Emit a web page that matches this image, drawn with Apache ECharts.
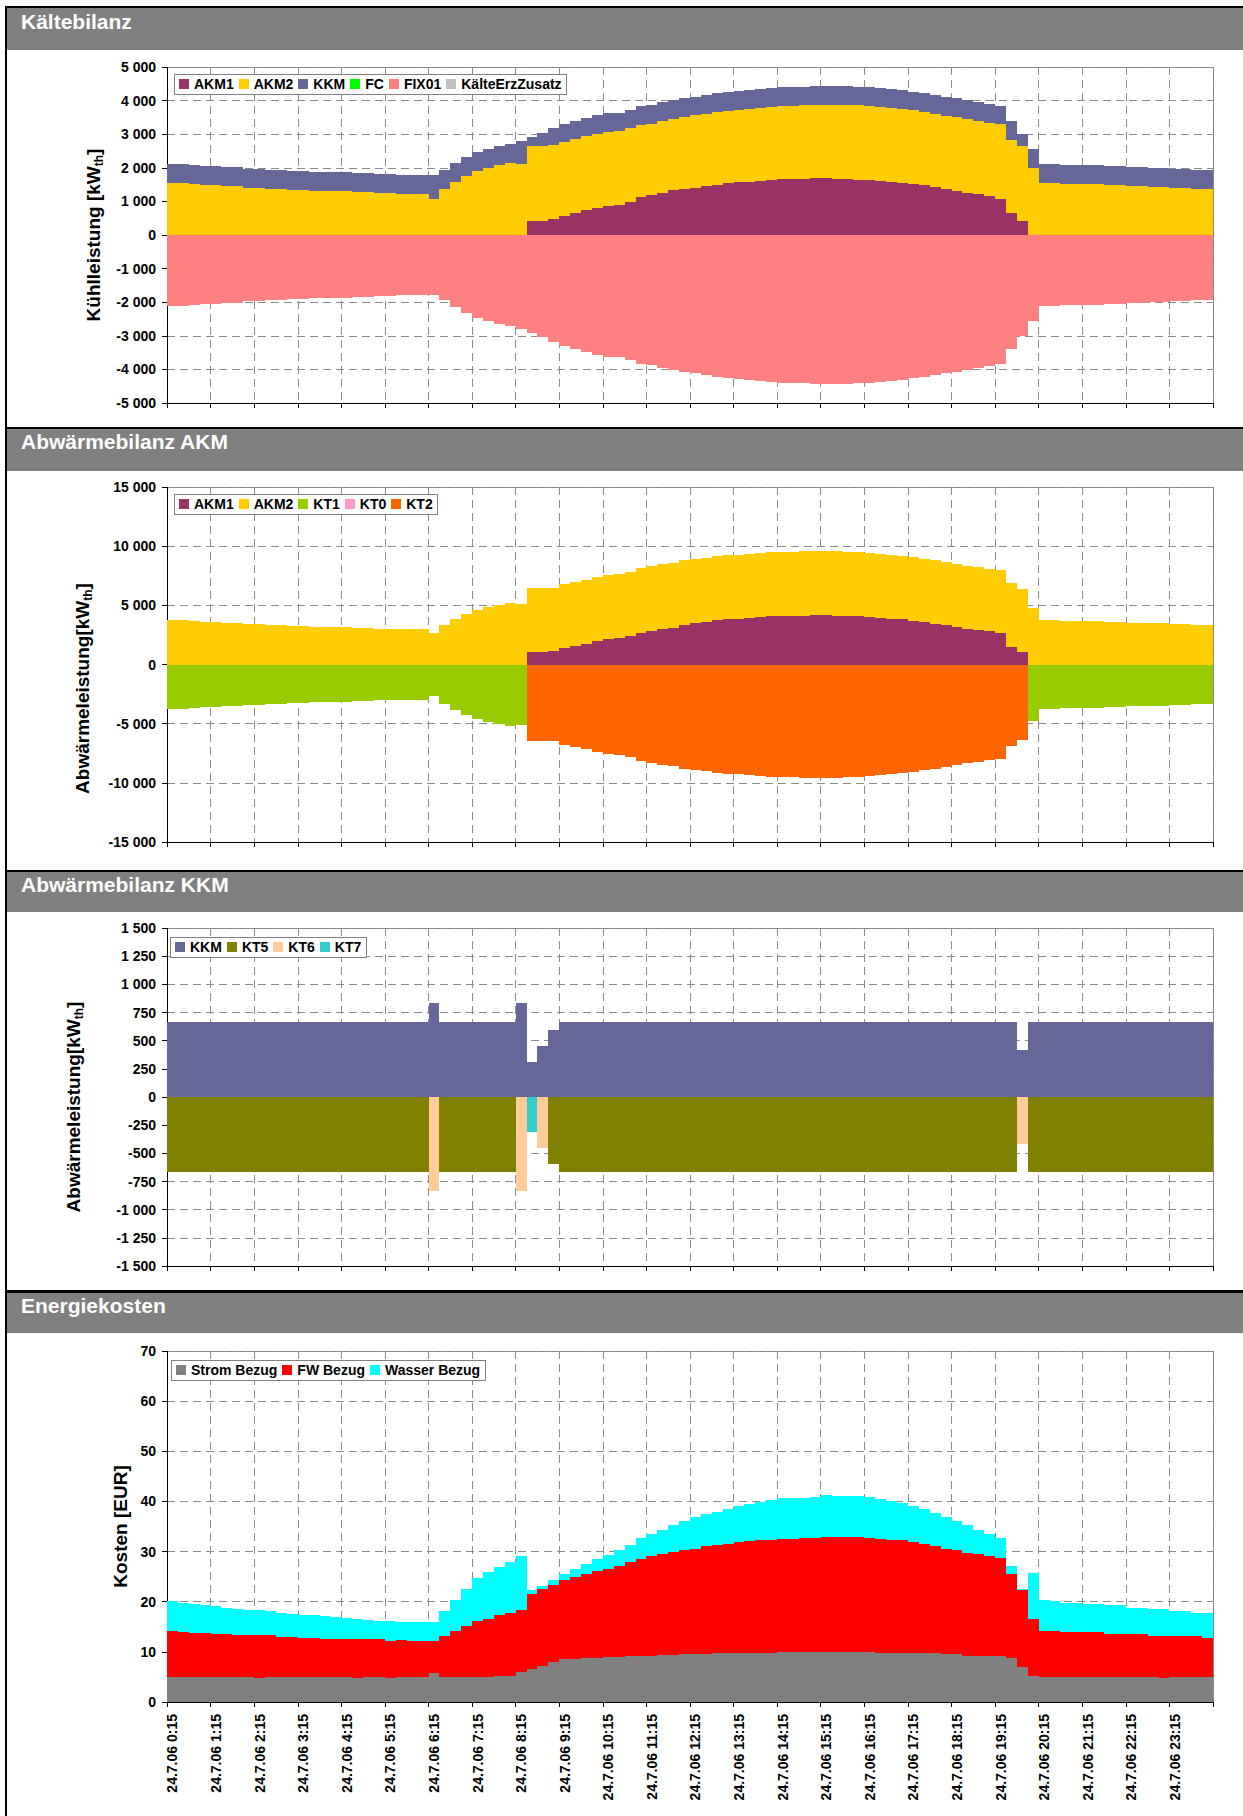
<!DOCTYPE html>
<html>
<head>
<meta charset="utf-8">
<title>Tagesbilanz 24.7.06</title>
<script src="https://cdn.jsdelivr.net/npm/echarts@6.0.0/dist/echarts.min.js"></script>
<style>
html,body{margin:0;padding:0;background:#fff;}
#chart{width:1243px;height:1816px;}
/* the stepped bar bands are drawn edge to edge; keep them free of hairline seams */
#chart svg path{shape-rendering:crispEdges;}
</style>
</head>
<body>
<div id="chart"></div>
<script>
// Quarter-hour time stamps of the day
const categories = [
  '24.7.06 0:15','24.7.06 0:30','24.7.06 0:45','24.7.06 1:00',
  '24.7.06 1:15','24.7.06 1:30','24.7.06 1:45','24.7.06 2:00',
  '24.7.06 2:15','24.7.06 2:30','24.7.06 2:45','24.7.06 3:00',
  '24.7.06 3:15','24.7.06 3:30','24.7.06 3:45','24.7.06 4:00',
  '24.7.06 4:15','24.7.06 4:30','24.7.06 4:45','24.7.06 5:00',
  '24.7.06 5:15','24.7.06 5:30','24.7.06 5:45','24.7.06 6:00',
  '24.7.06 6:15','24.7.06 6:30','24.7.06 6:45','24.7.06 7:00',
  '24.7.06 7:15','24.7.06 7:30','24.7.06 7:45','24.7.06 8:00',
  '24.7.06 8:15','24.7.06 8:30','24.7.06 8:45','24.7.06 9:00',
  '24.7.06 9:15','24.7.06 9:30','24.7.06 9:45','24.7.06 10:00',
  '24.7.06 10:15','24.7.06 10:30','24.7.06 10:45','24.7.06 11:00',
  '24.7.06 11:15','24.7.06 11:30','24.7.06 11:45','24.7.06 12:00',
  '24.7.06 12:15','24.7.06 12:30','24.7.06 12:45','24.7.06 13:00',
  '24.7.06 13:15','24.7.06 13:30','24.7.06 13:45','24.7.06 14:00',
  '24.7.06 14:15','24.7.06 14:30','24.7.06 14:45','24.7.06 15:00',
  '24.7.06 15:15','24.7.06 15:30','24.7.06 15:45','24.7.06 16:00',
  '24.7.06 16:15','24.7.06 16:30','24.7.06 16:45','24.7.06 17:00',
  '24.7.06 17:15','24.7.06 17:30','24.7.06 17:45','24.7.06 18:00',
  '24.7.06 18:15','24.7.06 18:30','24.7.06 18:45','24.7.06 19:00',
  '24.7.06 19:15','24.7.06 19:30','24.7.06 19:45','24.7.06 20:00',
  '24.7.06 20:15','24.7.06 20:30','24.7.06 20:45','24.7.06 21:00',
  '24.7.06 21:15','24.7.06 21:30','24.7.06 21:45','24.7.06 22:00',
  '24.7.06 22:15','24.7.06 22:30','24.7.06 22:45','24.7.06 23:00',
  '24.7.06 23:15','24.7.06 23:30','24.7.06 23:45','25.7.06 0:00'
];

// ---- Kältebilanz [kW_th] ----
const kbAKM1 = [
  0,0,0,0,0,0,0,0,0,0,0,0,
  0,0,0,0,0,0,0,0,0,0,0,0,
  0,0,0,0,0,0,0,0,0,417,417,466,
  556,655,734,810,850,883,972,1131,1200,1250,1329,1369,
  1409,1458,1498,1538,1567,1587,1617,1637,1657,1667,1667,1687,
  1687,1667,1657,1637,1637,1617,1587,1558,1528,1488,1438,1379,
  1310,1250,1210,1161,1062,655,417,0,0,0,0,0,
  0,0,0,0,0,0,0,0,0,0,0,0
];
const kbAKM2 = [
  1538,1538,1508,1478,1478,1448,1448,1409,1409,1379,1379,1349,
  1349,1319,1319,1300,1300,1270,1270,1250,1250,1230,1230,1230,
  1081,1379,1567,1746,1895,1984,2083,2143,2103,2230,2230,2200,
  2200,2190,2200,2205,2215,2200,2200,2135,2115,2145,2125,2145,
  2150,2150,2155,2150,2165,2175,2175,2175,2180,2180,2190,2190,
  2190,2200,2210,2220,2200,2195,2205,2190,2180,2175,2175,2175,
  2200,2200,2185,2170,2230,2180,2220,1984,1548,1548,1528,1528,
  1508,1508,1478,1478,1458,1458,1429,1429,1399,1399,1359,1359
];
const kbKKM = [
  565,565,565,565,565,565,565,565,565,565,565,565,
  565,565,565,565,565,565,565,565,565,565,565,565,
  715,565,565,565,565,565,565,565,700,265,385,505,
  560,560,560,560,560,560,560,560,560,560,560,560,
  560,560,560,560,560,560,560,560,560,560,560,560,
  560,560,560,560,560,560,560,560,560,560,560,560,
  560,560,560,560,560,560,355,565,565,565,565,565,
  565,565,565,565,565,565,565,565,565,565,565,565
];
const kbFC = [];        // free cooling: not in operation on this day
const kbFIX01 = [
  -2103,-2103,-2073,-2043,-2043,-2013,-2013,-1974,-1974,-1944,-1944,-1914,
  -1914,-1884,-1884,-1865,-1865,-1835,-1835,-1815,-1815,-1795,-1795,-1795,
  -1796,-1944,-2132,-2311,-2460,-2549,-2648,-2708,-2803,-2912,-3032,-3171,
  -3316,-3405,-3494,-3575,-3625,-3643,-3732,-3826,-3875,-3955,-4014,-4074,
  -4119,-4168,-4213,-4248,-4292,-4322,-4352,-4372,-4397,-4407,-4417,-4437,
  -4437,-4427,-4427,-4417,-4397,-4372,-4352,-4308,-4268,-4223,-4173,-4114,
  -4070,-4010,-3955,-3891,-3852,-3395,-2992,-2549,-2113,-2113,-2093,-2093,
  -2073,-2073,-2043,-2043,-2023,-2023,-1994,-1994,-1964,-1964,-1924,-1924
];
const kbZusatz = [];    // additional cold generation: none

// ---- Abwärmebilanz AKM [kW_th] ----
const abAKM1 = [
  0,0,0,0,0,0,0,0,0,0,0,0,
  0,0,0,0,0,0,0,0,0,0,0,0,
  0,0,0,0,0,0,0,0,0,1070,1070,1150,
  1400,1550,1770,2000,2190,2250,2420,2620,2840,2980,3120,3370,
  3510,3630,3740,3820,3880,3940,4020,4080,4110,4110,4130,4160,
  4160,4110,4110,4080,4050,3970,3880,3830,3710,3600,3460,3320,
  3210,3040,2900,2810,2670,1490,1040,0,0,0,0,0,
  0,0,0,0,0,0,0,0,0,0,0,0
];
const abAKM2 = [
  3740,3740,3670,3600,3600,3530,3530,3430,3430,3350,3350,3280,
  3280,3210,3210,3160,3160,3090,3090,3040,3040,2990,2990,2990,
  2650,3380,3830,4250,4640,4830,5010,5170,5090,5360,5360,5350,
  5370,5400,5400,5390,5400,5380,5400,5540,5460,5490,5490,5430,
  5410,5370,5400,5400,5400,5430,5400,5400,5400,5420,5430,5430,
  5430,5450,5420,5425,5400,5395,5400,5340,5370,5340,5340,5340,
  5255,5285,5340,5290,5345,5430,5370,4810,3760,3760,3710,3710,
  3660,3660,3590,3590,3540,3540,3470,3470,3400,3400,3300,3300
];
const abKT1 = [
  -3740,-3740,-3670,-3600,-3600,-3530,-3530,-3430,-3430,-3350,-3350,-3280,
  -3280,-3210,-3210,-3160,-3160,-3090,-3090,-3040,-3040,-2990,-2990,-2990,
  -2650,-3380,-3830,-4250,-4640,-4830,-5010,-5170,-5090,0,0,0,
  0,0,0,0,0,0,0,0,0,0,0,0,
  0,0,0,0,0,0,0,0,0,0,0,0,
  0,0,0,0,0,0,0,0,0,0,0,0,
  0,0,0,0,0,0,0,-4810,-3760,-3760,-3710,-3710,
  -3660,-3660,-3590,-3590,-3540,-3540,-3470,-3470,-3400,-3400,-3300,-3300
];
const abKT0 = [];       // cooling tower KT0: idle
const abKT2 = [
  0,0,0,0,0,0,0,0,0,0,0,0,
  0,0,0,0,0,0,0,0,0,0,0,0,
  0,0,0,0,0,0,0,0,0,-6430,-6430,-6500,
  -6770,-6950,-7170,-7390,-7590,-7630,-7820,-8160,-8300,-8470,-8610,-8800,
  -8920,-9000,-9140,-9220,-9280,-9370,-9420,-9480,-9510,-9530,-9560,-9590,
  -9590,-9560,-9530,-9505,-9450,-9365,-9280,-9170,-9080,-8940,-8800,-8660,
  -8465,-8325,-8240,-8100,-8015,-6920,-6410,0,0,0,0,0,
  0,0,0,0,0,0,0,0,0,0,0,0
];

// ---- Abwärmebilanz KKM [kW_th] ----
const kkKKM = [
  665,665,665,665,665,665,665,665,665,665,665,665,
  665,665,665,665,665,665,665,665,665,665,665,665,
  835,665,665,665,665,665,665,665,835,315,455,595,
  665,665,665,665,665,665,665,665,665,665,665,665,
  665,665,665,665,665,665,665,665,665,665,665,665,
  665,665,665,665,665,665,665,665,665,665,665,665,
  665,665,665,665,665,665,420,665,665,665,665,665,
  665,665,665,665,665,665,665,665,665,665,665,665
];
const kkKT5 = [
  -665,-665,-665,-665,-665,-665,-665,-665,-665,-665,-665,-665,
  -665,-665,-665,-665,-665,-665,-665,-665,-665,-665,-665,-665,
  0,-665,-665,-665,-665,-665,-665,-665,0,0,0,-595,
  -665,-665,-665,-665,-665,-665,-665,-665,-665,-665,-665,-665,
  -665,-665,-665,-665,-665,-665,-665,-665,-665,-665,-665,-665,
  -665,-665,-665,-665,-665,-665,-665,-665,-665,-665,-665,-665,
  -665,-665,-665,-665,-665,-665,0,-665,-665,-665,-665,-665,
  -665,-665,-665,-665,-665,-665,-665,-665,-665,-665,-665,-665
];
const kkKT6 = [
  0,0,0,0,0,0,0,0,0,0,0,0,
  0,0,0,0,0,0,0,0,0,0,0,0,
  -835,0,0,0,0,0,0,0,-835,0,-455,0,
  0,0,0,0,0,0,0,0,0,0,0,0,
  0,0,0,0,0,0,0,0,0,0,0,0,
  0,0,0,0,0,0,0,0,0,0,0,0,
  0,0,0,0,0,0,-420,0,0,0,0,0,
  0,0,0,0,0,0,0,0,0,0,0,0
];
const kkKT7 = [
  0,0,0,0,0,0,0,0,0,0,0,0,
  0,0,0,0,0,0,0,0,0,0,0,0,
  0,0,0,0,0,0,0,0,0,-315,0,0,
  0,0,0,0,0,0,0,0,0,0,0,0,
  0,0,0,0,0,0,0,0,0,0,0,0,
  0,0,0,0,0,0,0,0,0,0,0,0,
  0,0,0,0,0,0,0,0,0,0,0,0,
  0,0,0,0,0,0,0,0,0,0,0,0
];

// ---- Energiekosten [EUR] ----
const ekStrom = [
  5.0,5.0,5.0,5.0,5.0,5.0,5.0,5.0,4.8,5.0,5.0,5.0,
  5.0,5.0,5.0,5.0,5.0,4.8,5.0,5.0,4.8,5.0,5.0,5.0,
  5.8,5.0,5.0,5.0,5.0,5.0,5.2,5.2,6.0,6.5,7.2,8.0,
  8.5,8.5,8.8,8.8,9.0,9.0,9.1,9.1,9.1,9.3,9.3,9.5,
  9.5,9.5,9.8,9.8,9.8,9.8,9.8,9.8,10.0,10.0,10.0,10.0,
  10.0,10.0,10.0,10.0,10.0,9.8,9.8,9.8,9.8,9.8,9.8,9.5,
  9.5,9.1,9.1,9.1,9.1,8.8,7.0,5.1,4.9,4.9,4.9,4.9,
  4.9,4.9,4.9,4.9,4.9,4.9,4.9,4.8,4.9,4.9,4.9,4.9
];
const ekFW = [
  9.1,8.9,8.8,8.8,8.5,8.5,8.3,8.3,8.5,8.3,8.0,8.0,
  7.8,7.8,7.5,7.5,7.5,7.7,7.5,7.5,7.4,7.3,7.1,7.1,
  6.3,8.1,9.1,10.1,11.1,11.6,12.1,12.6,12.3,15.1,15.3,15.4,
  15.8,16.5,16.8,17.3,17.5,18.2,18.8,19.4,20.0,20.2,20.6,20.8,
  21.1,21.6,21.5,21.8,22.1,22.3,22.5,22.6,22.6,22.6,22.8,22.8,
  23.0,22.9,22.9,22.9,22.8,22.8,22.6,22.5,22.1,21.8,21.3,21.1,
  20.8,20.7,20.4,20.0,19.6,16.7,15.3,11.5,9.2,9.2,9.0,9.0,
  9.0,9.0,8.7,8.7,8.7,8.7,8.3,8.4,8.3,8.3,8.3,7.9
];
const ekWasser = [
  6.0,5.8,5.7,5.5,5.6,5.3,5.3,5.1,5.0,4.9,4.8,4.6,
  4.6,4.5,4.6,4.4,4.3,4.1,3.9,3.7,3.9,3.7,3.8,3.8,
  3.8,5.0,6.2,7.4,8.6,9.3,9.6,10.1,10.8,0.7,0.7,1.0,
  1.3,1.6,2.0,2.4,2.8,3.2,3.5,4.2,4.5,4.9,5.3,5.7,
  6.2,6.3,6.6,6.8,7.1,7.3,7.5,7.8,8.0,8.0,7.9,8.1,
  8.2,8.1,8.1,8.1,8.0,7.8,7.6,7.3,7.1,6.8,6.5,6.2,
  5.7,5.4,4.9,4.5,4.1,1.6,0.3,9.2,6.2,6.0,5.9,5.9,
  5.7,5.7,5.7,5.7,5.2,5.2,5.3,5.3,4.9,4.9,4.6,5.0
];

// ---------------------------------------------------------------
const FONT = "'Liberation Sans', Arial, Helvetica, sans-serif";
const PLOT_LEFT = 167, PLOT_WIDTH = 1046;
const GRID_LINE = { color: '#8c8c8c', width: 1, type: [8, 5] };

const panels = [
  { title: 'Kältebilanz', titleTop: 11, band: [8, 42], rule: [6, 2],
    top: 67, height: 336, min: -5000, max: 5000, step: 1000,
    name: ['Kühlleistung [kW', 'th', ']'], nameGap: 62, nameShift: 0,
    legend: { left: 174, top: 74 },
    series: [
      ['AKM1', kbAKM1, '#993366'], ['AKM2', kbAKM2, '#FFCC00'], ['KKM', kbKKM, '#666699'],
      ['FC', kbFC, '#00FF00'], ['FIX01', kbFIX01, '#FF8080'], ['KälteErzZusatz', kbZusatz, '#C0C0C0']
    ] },
  { title: 'Abwärmebilanz AKM', titleTop: 431, band: [429, 42], rule: [427, 2],
    top: 487, height: 355, min: -15000, max: 15000, step: 5000,
    name: ['Abwärmeleistung[kW', 'th', ']'], nameGap: 73, nameShift: 24,
    legend: { left: 174, top: 494 },
    series: [
      ['AKM1', abAKM1, '#993366'], ['AKM2', abAKM2, '#FFCC00'], ['KT1', abKT1, '#99CC00'],
      ['KT0', abKT0, '#FF99CC'], ['KT2', abKT2, '#FF6600']
    ] },
  { title: 'Abwärmebilanz KKM', titleTop: 874, band: [872, 40], rule: [870, 2],
    top: 928, height: 338, min: -1500, max: 1500, step: 250,
    name: ['Abwärmeleistung[kW', 'th', ']'], nameGap: 82, nameShift: 10,
    legend: { left: 170, top: 937 },
    series: [
      ['KKM', kkKKM, '#666699'], ['KT5', kkKT5, '#808000'], ['KT6', kkKT6, '#FFCC99'], ['KT7', kkKT7, '#33CCCC']
    ] },
  { title: 'Energiekosten', titleTop: 1295, band: [1293, 40], rule: [1290, 3],
    top: 1351, height: 351, min: 0, max: 70, step: 10,
    name: ['Kosten [EUR]', '', ''], nameGap: 34, nameShift: 0,
    legend: { left: 171, top: 1360 },
    series: [
      ['Strom Bezug', ekStrom, '#808080'], ['FW Bezug', ekFW, '#FF0000'], ['Wasser Bezug', ekWasser, '#00FFFF']
    ] }
];

// thousands separated by a space: 5 000, -1 250
function fmt(v) {
  const s = String(Math.abs(v)).replace(/\B(?=(\d{3})+(?!\d))/g, ' ');
  return (v < 0 ? '-' : '') + s;
}

const nameRich = {
  t: { fontSize: 19, fontWeight: 'bold', color: '#000', fontFamily: FONT, lineHeight: 24 },
  s: { fontSize: 12, fontWeight: 'bold', color: '#000', fontFamily: FONT, lineHeight: 24, verticalAlign: 'bottom' }
};

const option = {
  animation: false,
  backgroundColor: '#fff',
  textStyle: { fontFamily: FONT },
  title: panels.map(p => ({
    text: p.title, left: 21, top: p.titleTop, padding: 0,
    textStyle: { color: '#fff', fontSize: 21, fontWeight: 'bold', fontFamily: FONT }
  })),
  legend: panels.map(p => ({
    data: p.series.map(s => s[0]), left: p.legend.left, top: p.legend.top,
    orient: 'horizontal', icon: 'rect', itemWidth: 10, itemHeight: 10, itemGap: 5,
    padding: [3, 5, 3, 5], borderColor: '#808080', borderWidth: 1, borderRadius: 0,
    backgroundColor: '#fff', selectedMode: false,
    textStyle: { fontSize: 14, fontWeight: 'bold', color: '#000', fontFamily: FONT }
  })),
  grid: panels.map(p => ({
    left: PLOT_LEFT, top: p.top, width: PLOT_WIDTH, height: p.height,
    show: true, borderColor: '#808080', borderWidth: 1, backgroundColor: '#fff',
    containLabel: false, outerBoundsMode: 'none'
  })),
  xAxis: panels.map((p, k) => ({
    type: 'category', gridIndex: k, data: categories, boundaryGap: true, position: 'bottom',
    axisLine: { show: true, onZero: false, lineStyle: { color: '#000', width: 1 } },
    axisTick: { show: true, interval: 3, length: 5, lineStyle: { color: '#000' } },
    axisLabel: k === panels.length - 1
      ? { show: true, interval: 3, rotate: 90, margin: 12, fontSize: 14, fontWeight: 'bold', color: '#000', fontFamily: FONT }
      : { show: false, interval: 3 },
    splitLine: { show: true, interval: 3, lineStyle: GRID_LINE }
  })),
  yAxis: panels.map((p, k) => ({
    type: 'value', gridIndex: k, min: p.min, max: p.max, interval: p.step,
    axisLine: { show: true, lineStyle: { color: '#000', width: 1 } },
    axisTick: { show: true, length: 5, lineStyle: { color: '#000' } },
    axisLabel: { margin: 11, fontSize: 14, fontWeight: 'bold', color: '#000', fontFamily: FONT, formatter: fmt },
    splitLine: { show: true, lineStyle: GRID_LINE },
    name: '{t|' + p.name[0] + '}' + (p.name[1] ? '{s|' + p.name[1] + '}{t|' + p.name[2] + '}' : ''),
    nameLocation: 'middle', nameRotate: 90, nameGap: p.nameGap,
    nameTextStyle: { padding: [0, p.nameShift * 2, 0, 0], rich: nameRich }
  })),
  series: panels.flatMap((p, k) => p.series.map(([name, values, color]) => ({
    type: 'bar', name, xAxisIndex: k, yAxisIndex: k, stack: 'panel' + k,
    data: values.map(v => (v === 0 ? '-' : v)),
    barGap: '0%', barCategoryGap: '0%',
    itemStyle: { color },
    emphasis: { disabled: true }, silent: true
  }))),
  graphic: [
    ...panels.map(p => ({
      type: 'rect', silent: true, z: 0,
      shape: { x: 7, y: p.band[0], width: 1236, height: p.band[1] },
      style: { fill: '#808080' }
    })),
    ...panels.map(p => ({
      type: 'rect', silent: true, z: 1,
      shape: { x: 5, y: p.rule[0], width: 1238, height: p.rule[1] },
      style: { fill: '#000' }
    })),
    { type: 'rect', silent: true, z: 1, shape: { x: 5, y: 6, width: 2, height: 1810 }, style: { fill: '#000' } }
  ]
};

const chart = echarts.init(document.getElementById('chart'), null, { renderer: 'svg' });
chart.setOption(option);
</script>
</body>
</html>
